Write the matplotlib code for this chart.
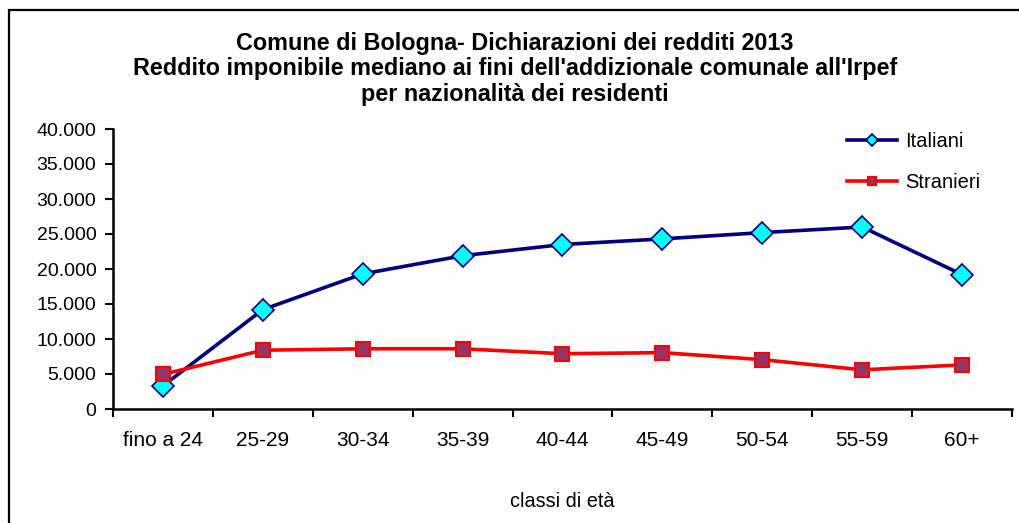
import matplotlib
matplotlib.use("Agg")
import matplotlib.pyplot as plt
from matplotlib.patches import Rectangle
from matplotlib.ticker import FuncFormatter, FixedLocator

plt.rcParams['font.family'] = ['Liberation Sans', 'DejaVu Sans']

# dati
classi = ['fino a 24', '25-29', '30-34', '35-39', '40-44', '45-49', '50-54', '55-59', '60+']
italiani = [3300, 14200, 19300, 21900, 23500, 24300, 25200, 26000, 19200]
stranieri = [4950, 8400, 8600, 8600, 7900, 8050, 7050, 5600, 6300]

fig = plt.figure(figsize=(10.2, 5.23), dpi=100)
ax = fig.add_axes([113/1020, 1-409/523, (1012-113)/1020, (409-129)/523])

# bordo esterno del grafico
fig.patches.append(Rectangle((9/1020, -0.05), 1.1, 1-10/523+0.05, transform=fig.transFigure,
                             fill=False, edgecolor='black', linewidth=1.6))

x = range(len(classi))
ax.plot(x, italiani, color='#000080', linewidth=2.6, marker='D', markersize=11,
        markerfacecolor='#00FFFF', markeredgecolor='#000080', markeredgewidth=1.2, label='Italiani')
ax.plot(x, stranieri, color='#FF0000', linewidth=2.6, marker='s', markersize=10,
        markerfacecolor='#993366', markeredgecolor='#FF0000', markeredgewidth=1.5, label='Stranieri')

ax.set_xlim(-0.5, len(classi) - 0.5)
ax.set_ylim(0, 40000)
ax.set_yticks(range(0, 40001, 5000))
ax.yaxis.set_major_formatter(FuncFormatter(lambda v, p: f'{int(v):,}'.replace(',', '.')))
ax.xaxis.set_major_locator(FixedLocator([i - 0.5 for i in range(len(classi) + 1)]))
ax.xaxis.set_minor_locator(FixedLocator(list(x)))
ax.set_xticklabels([''] * (len(classi) + 1))
ax.set_xticklabels(classi, minor=True)
ax.tick_params(axis='x', which='minor', length=0, labelsize=15, pad=16)
ax.tick_params(axis='x', which='major', length=6, width=1.5, direction='out')
ax.tick_params(axis='y', length=6, width=1.5, direction='out', labelsize=14, pad=6)

for s in ['top', 'right']:
    ax.spines[s].set_visible(False)
for s in ['left', 'bottom']:
    ax.spines[s].set_linewidth(1.8)

ax.set_xlabel('classi di età', fontsize=14.3, labelpad=30)

fig.text(515/1020, 1-69/523, "Comune di Bologna- Dichiarazioni dei redditi 2013\n"
         "Reddito imponibile mediano ai fini dell'addizionale comunale all'Irpef\n"
         "per nazionalità dei residenti",
         ha='center', va='center', fontsize=16.8, fontweight='bold', linespacing=1.12)

leg = ax.legend(loc='upper right', bbox_to_anchor=(0.985, 1.055), frameon=False, fontsize=14.5,
                handlelength=2.5, handletextpad=0.4, labelspacing=1.1, markerscale=0.6)

fig.savefig('out.png', dpi=100)
